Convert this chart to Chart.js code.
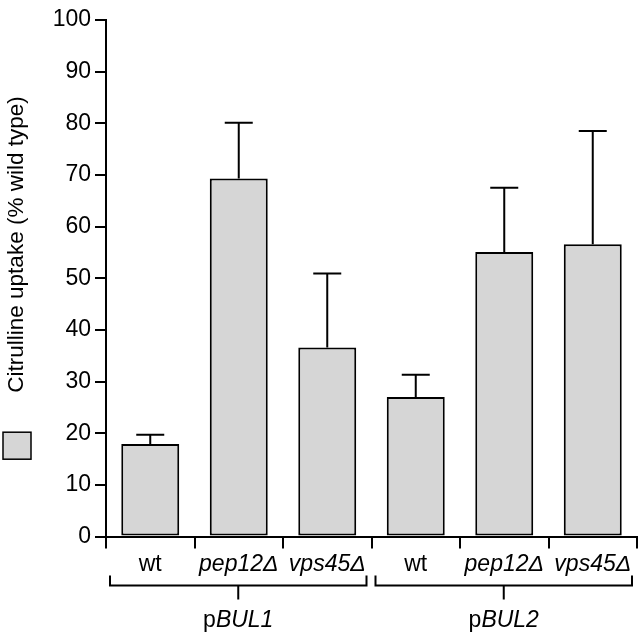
<!DOCTYPE html>
<html lang="en">

<head>
  <meta charset="utf-8">
  <title>Citrulline uptake</title>
  <script src="https://cdn.jsdelivr.net/npm/chart.js@4.4.1/dist/chart.umd.min.js"></script>
  <style>
    body { margin: 0; background: #fff; }
    #wrap { width: 640px; height: 634px; position: relative; }
  </style>
</head>

<body>
  <div id="wrap"><canvas id="myChart"></canvas></div>

  <script>
    // strains, two groups of three
    var strains = ['wt', 'pep12\u0394', 'vps45\u0394', 'wt', 'pep12\u0394', 'vps45\u0394'];
    var uptake = [17.9, 69.3, 36.6, 27.0, 55.1, 56.6];
    var errUp = [1.8, 10.8, 14.3, 4.3, 12.4, 21.9];
    var groupNames = [['p', 'BUL1'], ['p', 'BUL2']];
    var groupStart = [0, 3];
    var groupEnd = [2, 5];
    var yTitle = 'Citrulline uptake (% wild type)';

    var FONT = "'Liberation Sans', Arial, Helvetica, sans-serif";
    var BAR = '#d6d6d6';

    var extras = {
      id: 'extras',
      afterDatasetsDraw: function (chart) {
        var ctx = chart.ctx;
        var x = chart.scales.x;
        var y = chart.scales.y;
        var meta = chart.getDatasetMeta(0);
        ctx.save();
        ctx.strokeStyle = '#000';
        ctx.fillStyle = '#000';
        ctx.lineWidth = 2;

        // error bars, upper half only
        for (var i = 0; i < uptake.length; i++) {
          var bx = meta.data[i].x;
          var y0 = y.getPixelForValue(uptake[i]);
          var y1 = y.getPixelForValue(uptake[i] + errUp[i]);
          ctx.beginPath();
          ctx.moveTo(bx, y0);
          ctx.lineTo(bx, y1);
          ctx.moveTo(bx - 14, y1);
          ctx.lineTo(bx + 14, y1);
          ctx.stroke();
        }

        // group brackets under the strain names
        var step = x.getPixelForValue(1) - x.getPixelForValue(0);
        var by = chart.chartArea.bottom + 49;
        for (var g = 0; g < groupNames.length; g++) {
          var l = x.getPixelForValue(groupStart[g]) - step / 2 + 4;
          var r = x.getPixelForValue(groupEnd[g]) + step / 2 - 5;
          var mid = (l + r) / 2;
          ctx.beginPath();
          ctx.moveTo(l, by - 10);
          ctx.lineTo(l, by);
          ctx.lineTo(r, by);
          ctx.lineTo(r, by - 10);
          ctx.moveTo(mid, by);
          ctx.lineTo(mid, by + 14);
          ctx.stroke();

          // "p" upright, gene name italic
          var f1 = '23px ' + FONT;
          var f2 = 'italic 23px ' + FONT;
          ctx.font = f1;
          var w1 = ctx.measureText(groupNames[g][0]).width;
          ctx.font = f2;
          var w2 = ctx.measureText(groupNames[g][1]).width;
          var sx = mid - (w1 + w2) / 2;
          ctx.textAlign = 'left';
          ctx.textBaseline = 'alphabetic';
          ctx.font = f1;
          ctx.fillText(groupNames[g][0], sx, by + 41.5);
          ctx.font = f2;
          ctx.fillText(groupNames[g][1], sx + w1, by + 41.5);
        }

        // rotated y title
        ctx.save();
        ctx.translate(23, 244.5);
        ctx.rotate(-Math.PI / 2);
        ctx.font = '22.5px ' + FONT;
        ctx.textAlign = 'center';
        ctx.textBaseline = 'alphabetic';
        ctx.fillText(yTitle, 0, 0);
        ctx.restore();

        // legend square
        var sy = y.getPixelForValue(20);
        ctx.fillStyle = BAR;
        ctx.lineWidth = 1.5;
        ctx.fillRect(3, sy - 1, 28, 27);
        ctx.strokeRect(3, sy - 1, 28, 27);

        ctx.restore();
      }
    };

    var ctx = document.getElementById('myChart');
    var myChart = new Chart(ctx, {
      type: 'bar',
      data: {
        labels: strains,
        datasets: [{
          data: uptake,
          backgroundColor: BAR,
          borderColor: '#000',
          borderWidth: 2,
          borderSkipped: false,
          barPercentage: 0.655,
          categoryPercentage: 1
        }]
      },
      options: {
        responsive: true,
        maintainAspectRatio: false,
        animation: false,
        layout: { padding: { top: 20, right: 3, left: 0, bottom: 0 } },
        plugins: { legend: { display: false }, tooltip: { enabled: false } },
        scales: {
          x: {
            grid: { offset: true, drawOnChartArea: false, tickLength: 12, color: '#000', lineWidth: 2 },
            border: { color: '#000', width: 2 },
            ticks: {
              color: '#000',
              padding: 2,
              maxRotation: 0,
              font: function (c) {
                return { family: FONT, size: 23, style: (c.index % 3 === 0) ? 'normal' : 'italic' };
              }
            },
            afterFit: function (s) { s.height = 97.5; }
          },
          y: {
            min: 0,
            max: 100,
            grid: { drawOnChartArea: false, tickLength: 11, color: '#000', lineWidth: 2 },
            border: { color: '#000', width: 2 },
            ticks: { stepSize: 10, color: '#000', padding: 4, font: { family: FONT, size: 23 } },
            afterFit: function (s) { s.width = 106; }
          }
        }
      },
      plugins: [extras]
    });
  </script>
</body>

</html>
